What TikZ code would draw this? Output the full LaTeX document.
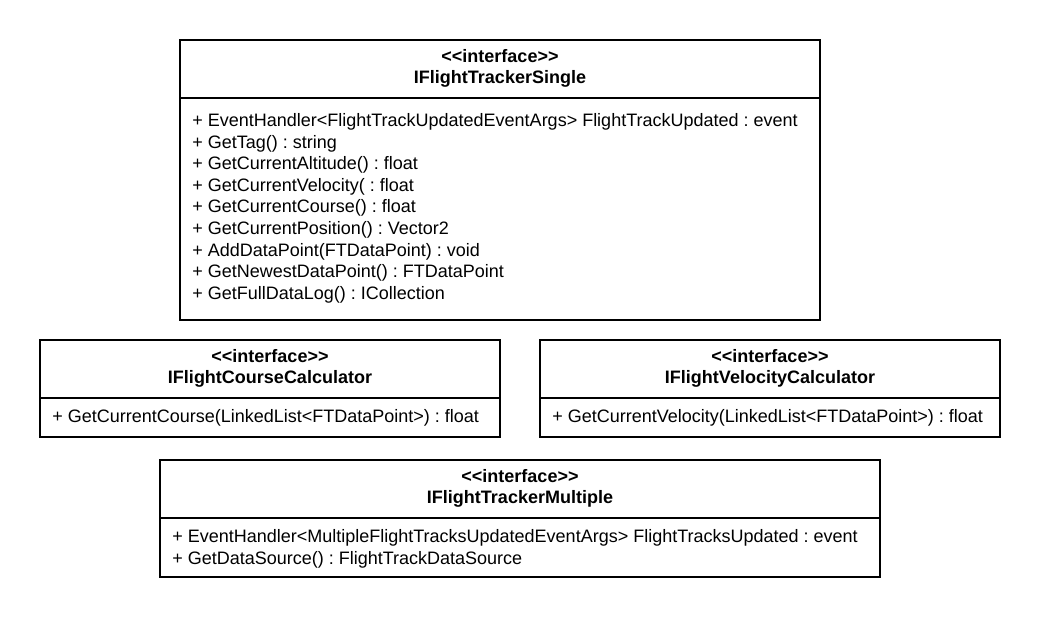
\documentclass[tikz,border=0pt]{standalone}
\usepackage{fontspec}
\setmainfont{Liberation Sans}
\frenchspacing
\begin{document}
\begin{tikzpicture}[x=0.75pt,y=-0.75pt,
  frame/.style={draw=black, line width=1.5pt},
  divider/.style={draw=black, line width=1.5pt},
  stereo/.style={font=\fontsize{13.5}{16}\selectfont\bfseries, inner sep=0pt, anchor=base},
  member/.style={font=\fontsize{13.5}{16}\selectfont, inner sep=0pt, anchor=base west},
]
\useasboundingbox (0,0) rectangle (1040,618);
\fill[white] (0,0) rectangle (1040,618);

% IFlightTrackerSingle
\draw[frame] (180,40) rectangle (820,320);
\draw[divider] (180,98) -- (820,98);
\node[stereo] (single-st) at (500,62) {<{}<interface>{}>};
\node[stereo] (single-name) at (500,83) {IFlightTrackerSingle};
\foreach \t [count=\i from 0] in {
  + EventHandler<FlightTrackUpdatedEventArgs> FlightTrackUpdated : event,
  + GetTag() : string,
  + GetCurrentAltitude() : float,
  + GetCurrentVelocity( : float,
  + GetCurrentCourse() : float,
  + GetCurrentPosition() : Vector2,
  + AddDataPoint(FTDataPoint) : void,
  + GetNewestDataPoint() : FTDataPoint,
  + GetFullDataLog() : ICollection}
  \node[member] (single-op-\i) at (192,126.5+21.6*\i) {\t};

% IFlightCourseCalculator
\draw[frame] (40,340) rectangle (500,437);
\draw[divider] (40,398) -- (500,398);
\node[stereo] (course-st) at (270,362.5) {<{}<interface>{}>};
\node[stereo] (course-name) at (270,383.5) {IFlightCourseCalculator};
\node[member] (course-op) at (52,422.5) {+ GetCurrentCourse(LinkedList<FTDataPoint>) : float};

% IFlightVelocityCalculator
\draw[frame] (540,340) rectangle (1000,437);
\draw[divider] (540,398) -- (1000,398);
\node[stereo] (velocity-st) at (770,362.5) {<{}<interface>{}>};
\node[stereo] (velocity-name) at (770,383.5) {IFlightVelocityCalculator};
\node[member] (velocity-op) at (552,422.5) {+ GetCurrentVelocity(LinkedList<FTDataPoint>) : float};

% IFlightTrackerMultiple
\draw[frame] (160,460) rectangle (880,577);
\draw[divider] (160,518) -- (880,518);
\node[stereo] (multi-st) at (520,482.5) {<{}<interface>{}>};
\node[stereo] (multi-name) at (520,503.5) {IFlightTrackerMultiple};
\node[member] (multi-op-0) at (172,542.5) {+ EventHandler<MultipleFlightTracksUpdatedEventArgs> FlightTracksUpdated : event};
\node[member] (multi-op-1) at (172,564.1) {+ GetDataSource() : FlightTrackDataSource};
\end{tikzpicture}
\end{document}
